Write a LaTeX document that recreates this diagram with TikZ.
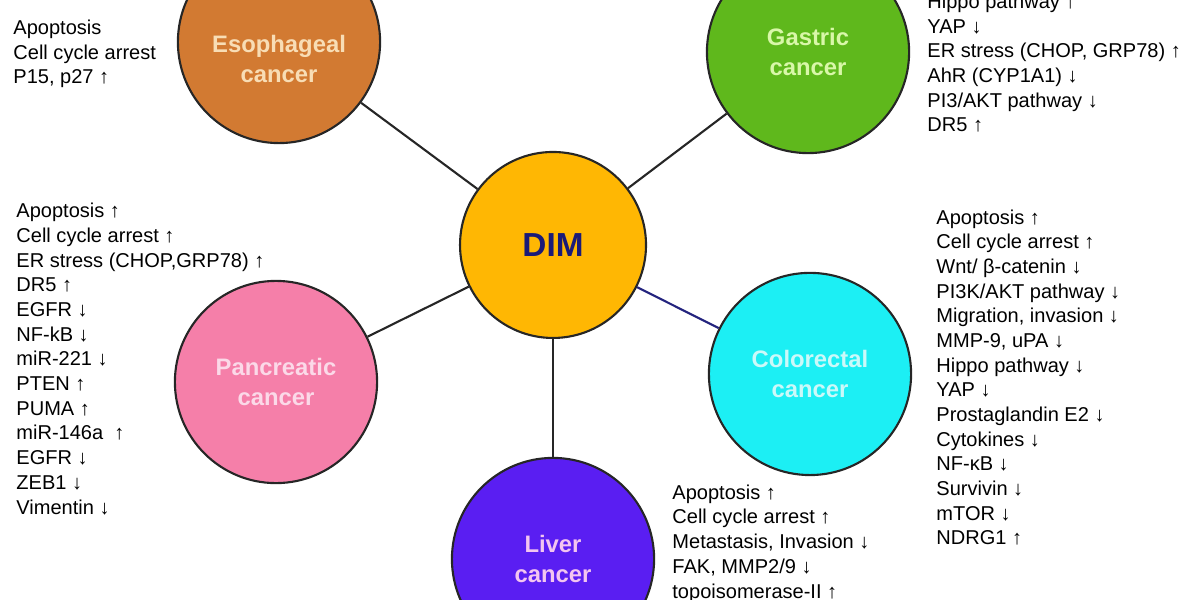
\documentclass[tikz,border=0pt]{standalone}
\usepackage{fontspec}
\setmainfont{Liberation Sans}
\usepackage{xcolor}
\usetikzlibrary{positioning}
\definecolor{esoFill}{HTML}{D27A32}
\definecolor{esoText}{HTML}{F8DDB5}
\definecolor{gasFill}{HTML}{5FB81C}
\definecolor{gasText}{HTML}{D9F7A9}
\definecolor{dimFill}{HTML}{FFB703}
\definecolor{dimText}{HTML}{1A1A78}
\definecolor{panFill}{HTML}{F57FA9}
\definecolor{panText}{HTML}{FBD9E8}
\definecolor{colFill}{HTML}{1CEFF4}
\definecolor{colText}{HTML}{CBF9F9}
\definecolor{livFill}{HTML}{5A1EF2}
\definecolor{livText}{HTML}{F3C5F0}
\definecolor{navyLine}{HTML}{23237E}

\begin{document}
\begin{tikzpicture}[
  cnode/.style={circle,draw=black!85,line width=1pt,minimum size=3.37cm,inner sep=0pt,
                align=center,font=\fontsize{11.3}{14.2}\selectfont\bfseries},
  lst/.style={align=left,anchor=base west,inner sep=0pt,
              font=\fontsize{9.5}{11.7}\selectfont},
  link/.style={line width=1pt,draw=black!85},
]
\useasboundingbox (0,0) rectangle (20,10);

\node[cnode,fill=dimFill,minimum size=3.1cm,text=dimText,font=\fontsize{15.8}{17}\selectfont\bfseries]
  (dim) at (9.217,5.917) {DIM};
\node[cnode,fill=esoFill,
      label={[text=esoText,font=\fontsize{11.3}{14.2}\selectfont\bfseries,align=center,yshift=-0.28cm]center:Esophageal\\cancer}]
  (eso) at (4.65,9.3) {};
\node[cnode,fill=gasFill,text=gasText] (gas) at (13.467,9.133) {Gastric\\cancer};
\node[cnode,fill=panFill,text=panText] (pan) at (4.6,3.633) {Pancreatic\\cancer};
\node[cnode,fill=colFill,text=colText] (col) at (13.5,3.767) {Colorectal\\cancer};
\node[cnode,fill=livFill,text=livText] (liv) at (9.217,0.683) {Liver\\cancer};

\draw[link] (dim) -- (eso);
\draw[link] (dim) -- (gas);
\draw[link] (dim) -- (pan);
\draw[link,draw=navyLine] (dim) -- (col);
\draw[link] (dim) -- (liv);

% effects per cancer type (base = last line)
\node[lst] (esoList) at (0.217,8.6) {Apoptosis\\Cell cycle arrest\\P15, p27 ↑};
\node[lst] (gasList) at (15.45,7.8) {Hippo pathway ↑\\YAP ↓\\ER stress (CHOP, GRP78) ↑\\
  AhR (CYP1A1) ↓\\PI3/AKT pathway ↓\\DR5 ↑};
\node[lst] (panList) at (0.267,1.433) {Apoptosis ↑\\Cell cycle arrest ↑\\ER stress (CHOP,GRP78) ↑\\
  DR5 ↑\\EGFR ↓\\NF-kB ↓\\miR-221 ↓\\PTEN ↑\\PUMA ↑\\miR-146a \ ↑\\EGFR ↓\\ZEB1 ↓\\Vimentin ↓};
\node[lst] (colList) at (15.6,0.917) {Apoptosis ↑\\Cell cycle arrest ↑\\Wnt/ β-catenin ↓\\
  PI3K/AKT pathway ↓\\Migration, invasion ↓\\MMP-9, uPA ↓\\Hippo pathway ↓\\YAP ↓\\
  Prostaglandin E2 ↓\\Cytokines ↓\\NF-κB ↓\\Survivin ↓\\mTOR ↓\\NDRG1 ↑};
\node[lst] (livList) at (11.2,0.033) {Apoptosis ↑\\Cell cycle arrest ↑\\Metastasis, Invasion ↓\\
  FAK, MMP2/9 ↓\\topoisomerase-II ↑};
\end{tikzpicture}
\end{document}
